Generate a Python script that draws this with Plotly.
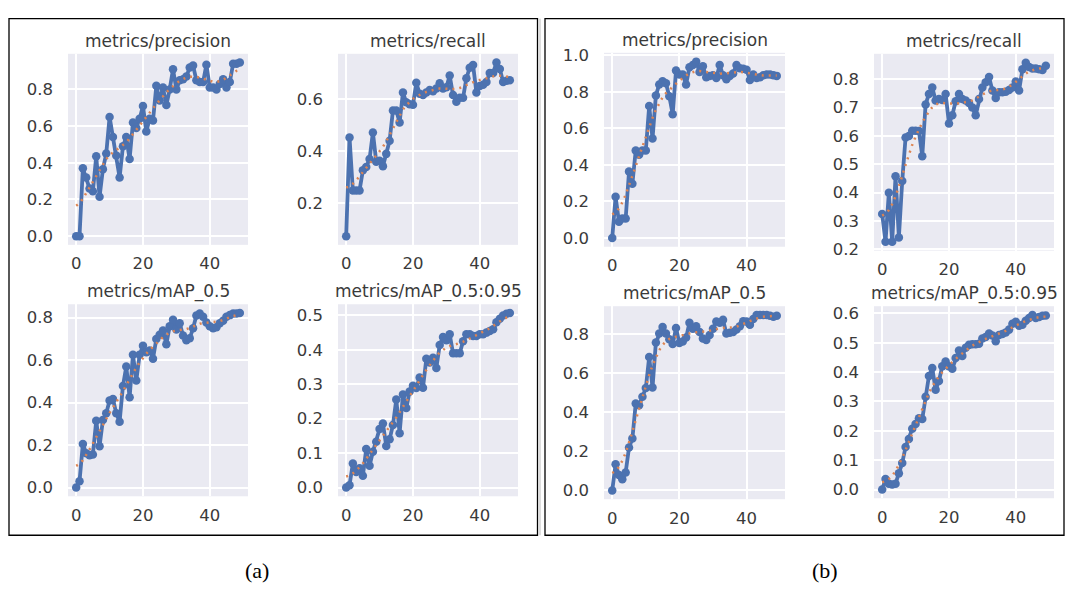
import numpy as np
import plotly.graph_objects as go

epochs = list(range(50))

a_precision = [0.0, 0.0, 0.37, 0.32, 0.26, 0.245, 0.435, 0.215, 0.365, 0.45,
               0.65, 0.54, 0.44, 0.32, 0.49, 0.54, 0.42, 0.62, 0.59, 0.64,
               0.71, 0.57, 0.64, 0.63, 0.82, 0.74, 0.81, 0.715, 0.80, 0.91,
               0.80, 0.85, 0.855, 0.87, 0.92, 0.93, 0.85, 0.84, 0.84, 0.935,
               0.81, 0.81, 0.80, 0.83, 0.855, 0.81, 0.84, 0.94, 0.94, 0.947]
a_recall = [0.075, 0.453, 0.25, 0.25, 0.25, 0.327, 0.34, 0.37, 0.472, 0.36,
            0.364, 0.343, 0.39, 0.44, 0.556, 0.556, 0.51, 0.625, 0.588, 0.58,
            0.578, 0.662, 0.62, 0.615, 0.625, 0.635, 0.63, 0.64, 0.66, 0.64,
            0.645, 0.69, 0.615, 0.59, 0.605, 0.605, 0.68, 0.72, 0.73, 0.625,
            0.65, 0.655, 0.665, 0.70, 0.70, 0.74, 0.715, 0.665, 0.67, 0.672]
a_map50 = [0.0, 0.03, 0.205, 0.162, 0.152, 0.156, 0.315, 0.194, 0.318, 0.35,
           0.41, 0.417, 0.35, 0.31, 0.478, 0.57, 0.425, 0.625, 0.504, 0.625,
           0.668, 0.637, 0.645, 0.607, 0.70, 0.72, 0.74, 0.675, 0.76, 0.79,
           0.744, 0.774, 0.716, 0.694, 0.703, 0.75, 0.81, 0.82, 0.804, 0.777,
           0.76, 0.75, 0.755, 0.774, 0.786, 0.804, 0.812, 0.82, 0.82, 0.822]
a_map5095 = [0.0, 0.007, 0.07, 0.045, 0.056, 0.034, 0.112, 0.063, 0.104, 0.133,
             0.17, 0.186, 0.121, 0.14, 0.182, 0.256, 0.158, 0.27, 0.231, 0.279,
             0.296, 0.289, 0.32, 0.29, 0.374, 0.363, 0.377, 0.347, 0.414, 0.437,
             0.428, 0.445, 0.39, 0.39, 0.39, 0.425, 0.445, 0.445, 0.44, 0.44,
             0.445, 0.445, 0.45, 0.455, 0.46, 0.48, 0.49, 0.50, 0.505, 0.507]

b_precision = [0.0, 0.225, 0.089, 0.106, 0.106, 0.363, 0.296, 0.479, 0.456, 0.479,
               0.479, 0.722, 0.544, 0.78, 0.84, 0.858, 0.846, 0.775, 0.677, 0.917,
               0.894, 0.894, 0.84, 0.934, 0.947, 0.965, 0.908, 0.94, 0.88, 0.887,
               0.89, 0.876, 0.947, 0.89, 0.869, 0.887, 0.90, 0.947, 0.929, 0.926,
               0.92, 0.864, 0.894, 0.876, 0.88, 0.89, 0.894, 0.894, 0.89, 0.887]
b_recall = [0.325, 0.227, 0.40, 0.227, 0.458, 0.242, 0.441, 0.594, 0.60, 0.618,
            0.618, 0.617, 0.528, 0.711, 0.748, 0.771, 0.725, 0.73, 0.727, 0.748,
            0.644, 0.673, 0.722, 0.748, 0.73, 0.725, 0.716, 0.70, 0.673, 0.73,
            0.771, 0.789, 0.808, 0.76, 0.734, 0.754, 0.754, 0.756, 0.762, 0.771,
            0.792, 0.76, 0.835, 0.858, 0.843, 0.838, 0.838, 0.835, 0.832, 0.847]
b_map50 = [0.0, 0.134, 0.079, 0.058, 0.092, 0.22, 0.266, 0.446, 0.437, 0.48,
           0.525, 0.685, 0.528, 0.759, 0.805, 0.838, 0.805, 0.776, 0.751, 0.833,
           0.756, 0.764, 0.784, 0.86, 0.83, 0.842, 0.813, 0.78, 0.772, 0.797,
           0.83, 0.866, 0.86, 0.875, 0.805, 0.809, 0.813, 0.825, 0.842, 0.868,
           0.866, 0.85, 0.88, 0.90, 0.90, 0.90, 0.90, 0.896, 0.891, 0.896]
b_map5095 = [0.0, 0.036, 0.02, 0.017, 0.02, 0.055, 0.09, 0.145, 0.172, 0.207,
             0.223, 0.243, 0.24, 0.316, 0.387, 0.414, 0.34, 0.37, 0.42, 0.436,
             0.42, 0.412, 0.448, 0.474, 0.455, 0.483, 0.493, 0.495, 0.495, 0.497,
             0.515, 0.52, 0.532, 0.525, 0.505, 0.527, 0.53, 0.535, 0.545, 0.565,
             0.572, 0.558, 0.562, 0.575, 0.585, 0.595, 0.585, 0.588, 0.592, 0.593]

titles = ["metrics/precision", "metrics/recall", "metrics/mAP_0.5", "metrics/mAP_0.5:0.95"]
x_ticks = [0, 20, 40]
captions = ["(a)", "(b)"]

W, H = 1070, 592
BLUE = "#4C72B0"
ORANGE = "#DD8452"
TXT = "#3a3a3a"
FONT = "DejaVu Sans"


def gauss_smooth(y, sigma=3.0, truncate=4.0):
    # same smoothing as the training-results plot (gaussian_filter1d, sigma=3)
    y = np.asarray(y, dtype=float)
    r = int(truncate * sigma + 0.5)
    k = np.arange(-r, r + 1)
    w = np.exp(-0.5 * (k / sigma) ** 2)
    w /= w.sum()
    p = np.pad(y, r, mode="symmetric")
    return np.convolve(p, w, mode="valid")


# (data, title, dtick, plot-area box in px: left, right, top, bottom)
panels = [
    (a_precision, titles[0], 0.2, (68, 248, 48, 244)),
    (a_recall, titles[1], 0.2, (338, 518, 48, 244)),
    (a_map50, titles[2], 0.2, (68, 248, 305, 502)),
    (a_map5095, titles[3], 0.1, (338, 518, 305, 502)),
    (b_precision, titles[0], 0.2, (604, 785, 47, 246)),
    (b_recall, titles[1], 0.1, (874, 1054, 48, 250)),
    (b_map50, titles[2], 0.2, (604, 785, 307, 505)),
    (b_map5095, titles[3], 0.1, (874, 1054, 307, 504)),
]

fig = go.Figure()
layout = dict(
    width=W, height=H, margin=dict(l=0, r=0, t=0, b=0),
    paper_bgcolor="white", plot_bgcolor="#EAEAF2",
    showlegend=False, font=dict(family=FONT, color=TXT),
)
annotations = []
shapes = []

for i, (data, title, dt, (l, r, t, b)) in enumerate(panels, start=1):
    sfx = "" if i == 1 else str(i)
    xa, ya = "x" + sfx, "y" + sfx
    ymin, ymax = min(data), max(data)
    span = ymax - ymin
    fig.add_trace(go.Scatter(
        x=epochs, y=data, mode="lines+markers", xaxis=xa, yaxis=ya,
        line=dict(color=BLUE, width=3.8), marker=dict(color=BLUE, size=8.5),
        cliponaxis=False,
    ))
    fig.add_trace(go.Scatter(
        x=epochs, y=gauss_smooth(data), mode="lines", xaxis=xa, yaxis=ya,
        line=dict(color=ORANGE, width=2.5, dash="2px,5px"),
    ))
    layout["xaxis" + sfx] = dict(
        domain=[l / W, r / W], anchor=ya, range=[-2.45, 51.45],
        tickvals=x_ticks, showgrid=True, gridcolor="white", gridwidth=1.6,
        zeroline=False, showline=False, ticks="", ticklabelstandoff=7,
        tickfont=dict(family=FONT, size=16.5, color=TXT),
    )
    layout["yaxis" + sfx] = dict(
        domain=[1 - b / H, 1 - t / H], anchor=xa,
        range=[ymin - 0.05 * span, ymax + 0.05 * span], dtick=dt, tick0=0,
        tickformat=".1f", showgrid=True, gridcolor="white", gridwidth=1.6,
        zeroline=False, showline=False, ticks="", ticklabelstandoff=14,
        tickfont=dict(family=FONT, size=16.5, color=TXT),
    )
    annotations.append(dict(
        text=title, xref="paper", yref="paper",
        x=(l + r) / 2 / W, y=1 - (t - 13) / H, xanchor="center", yanchor="middle",
        showarrow=False, font=dict(family=FONT, size=17, color=TXT),
    ))

# panel frames
for (x0, x1) in [(9, 537.5), (545, 1064)]:
    shapes.append(dict(type="rect", xref="paper", yref="paper",
                       x0=x0 / W, x1=x1 / W, y0=1 - 542 / H, y1=1 - 12 / H,
                       line=dict(color="black", width=1.3), layer="above"))
shapes.append(dict(type="line", xref="paper", yref="paper",
                   x0=540 / W, x1=540 / W, y0=1 - 542 / H, y1=1 - 12 / H,
                   line=dict(color="#BBBBBB", width=1)))

for cap, cx in zip(captions, [257, 825]):
    annotations.append(dict(
        text=cap, xref="paper", yref="paper", x=cx / W, y=1 - 578 / H,
        xanchor="center", yanchor="middle", showarrow=False,
        font=dict(family="Liberation Serif", size=22, color="black"),
    ))

layout["annotations"] = annotations
layout["shapes"] = shapes
fig.update_layout(**layout)
fig.write_html("out.html")
